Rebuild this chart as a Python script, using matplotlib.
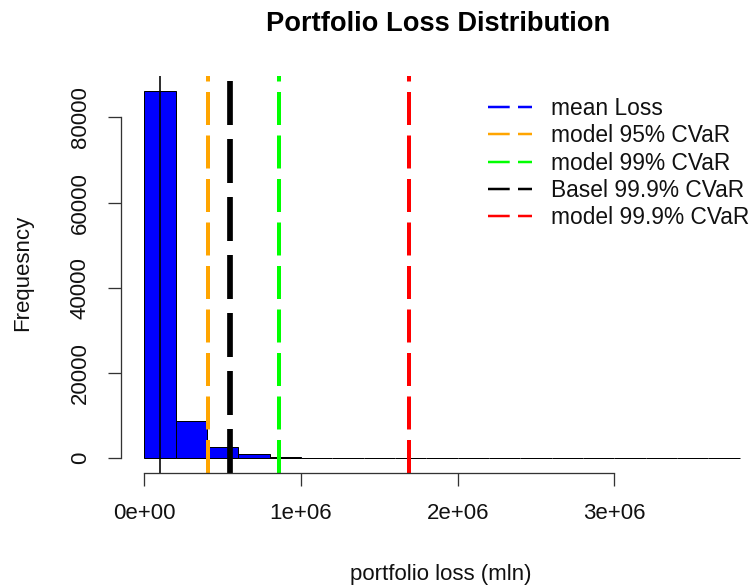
import numpy as np
import matplotlib
matplotlib.use("Agg")
import matplotlib.pyplot as plt
from matplotlib.lines import Line2D

# histogram of simulated portfolio losses (bin width 200k)
bin_edges = np.arange(0, 3.8e6 + 1, 2e5)
bin_counts = [86200, 8800, 2720, 940, 235, 0, 0, 0, 0, 0,
              0, 0, 0, 0, 0, 0, 0, 0, 0]

mean_loss = 1.0e5
risk_names = ["mean Loss", "model 95% CVaR", "model 99% CVaR",
              "Basel 99.9% CVaR", "model 99.9% CVaR"]
risk_values = [None, 4.05e5, 8.6e5, 5.5e5, 1.69e6]
risk_colors = ["blue", "orange", "#00FF00", "black", "red"]

W, H, DPI = 754, 587, 100
PT = 72 / DPI  # pixels -> points

plt.rcParams["font.family"] = ["Liberation Sans", "DejaVu Sans"]

fig = plt.figure(figsize=(W / DPI, H / DPI), dpi=DPI)
left, top, bottom = 120.5, 76.2, 473.0
ax = fig.add_axes([left / W, 1 - bottom / H, 1 - left / W, (bottom - top) / H])

ax.bar(bin_edges[:-1], bin_counts, width=2e5, align="edge",
       color="blue", edgecolor="black", linewidth=1.0 * PT)

# thin mean line
ax.axvline(mean_loss, color="black", linewidth=1.6 * PT)


def vline(x, color, lw_px, on_px, off_px):
    lw = lw_px * PT
    ln = ax.axvline(x, color=color, linewidth=lw)
    ln.set_dashes((on_px * PT / lw, off_px * PT / lw))
    return ln


for name, val, col in zip(risk_names, risk_values, risk_colors):
    if val is None:
        continue
    if col == "black":
        vline(val, col, 5.7, 44, 14)
    else:
        vline(val, col, 4.0, 33, 10.5)

ax.set_xlim(-1.52e5, 3.891e6)
ax.set_ylim(-3448, 89648)

for s in ["top", "right"]:
    ax.spines[s].set_visible(False)
ax.spines["left"].set_bounds(0, 80000)
ax.spines["bottom"].set_bounds(0, 3e6)
for s in ["left", "bottom"]:
    ax.spines[s].set_linewidth(1.3 * PT)
    ax.spines[s].set_color("#333333")

ax.set_xticks([0, 1e6, 2e6, 3e6])
ax.set_xticklabels(["0e+00", "1e+06", "2e+06", "3e+06"])
ax.set_yticks([0, 20000, 40000, 60000, 80000])
ax.set_yticklabels(["0", "20000", "40000", "60000", "80000"],
                   rotation=90, va="center")
ax.tick_params(axis="both", length=13 * PT, width=1.3 * PT, colors="#333333",
               labelcolor="#111111", labelsize=16, pad=12)

handles = []
for col in risk_colors:
    h = Line2D([0], [0], color=col, linewidth=2.5 * PT)
    h.set_dashes((21.7 * PT / (2.5 * PT), 8.3 * PT / (2.5 * PT)))
    handles.append(h)
fig.legend(handles, risk_names, loc="upper left",
           bbox_to_anchor=(488 / W, 1 - 97 / H), bbox_transform=fig.transFigure,
           frameon=False, fontsize=16.4, handlelength=1.93, handletextpad=0.85,
           labelspacing=0.19, borderpad=0, borderaxespad=0, labelcolor="#111111")

fig.text(438.5 / W, 1 - 31 / H, "Portfolio Loss Distribution",
         ha="center", va="baseline", fontsize=19.6, fontweight="bold")
fig.text(441 / W, 1 - 580 / H, "portfolio loss (mln)",
         ha="center", va="baseline", fontsize=16, color="#111111")
fig.text(33 / W, 1 - 273 / H, "Frequesncy", rotation=90,
         ha="right", va="center", fontsize=16, color="#111111")

fig.savefig("out.png", dpi=DPI)
